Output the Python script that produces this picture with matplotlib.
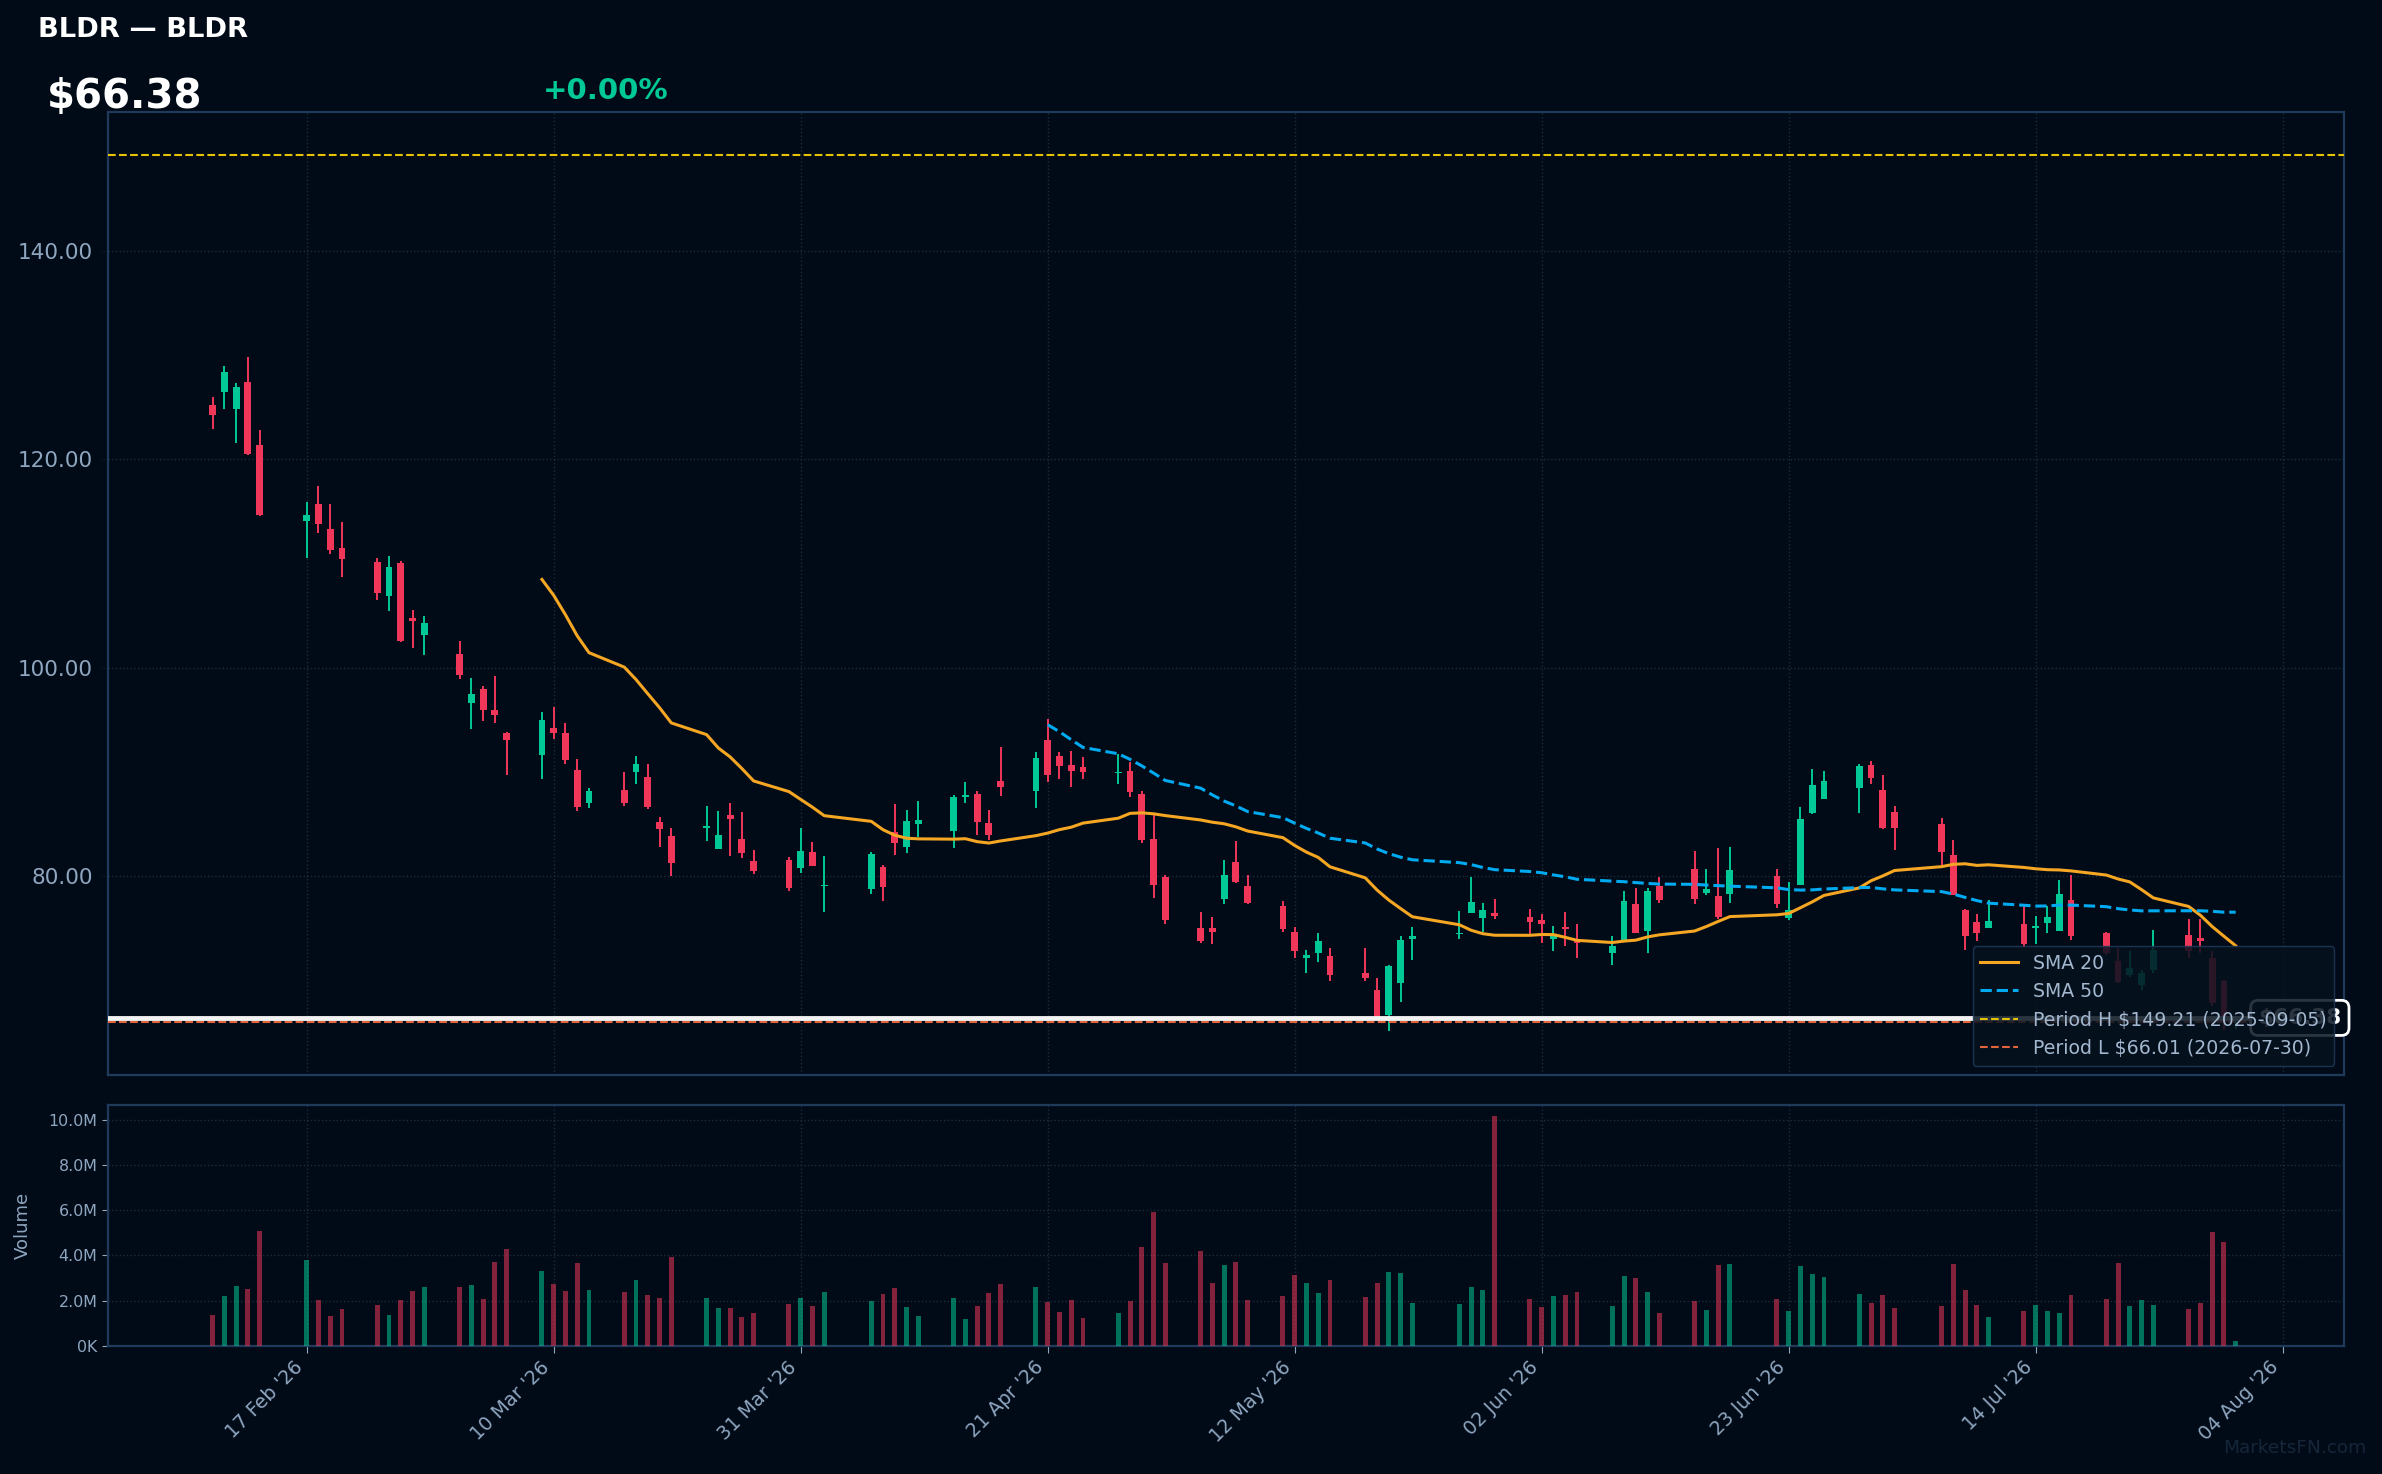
import matplotlib
matplotlib.use("Agg")
import matplotlib.pyplot as plt
import matplotlib.dates as mdates
import matplotlib.ticker as mticker
import numpy as np
import pandas as pd

# --- data ---
ticker = "BLDR"
name = "BLDR"
last_price = 66.38
change_pct = 0.00
period_high = 149.21
period_high_date = "2025-09-05"
period_low = 66.01
period_low_date = "2026-07-30"

holidays = ["2026-02-16", "2026-04-03", "2026-05-25", "2026-06-19", "2026-07-03"]
dates = pd.bdate_range("2026-02-09", "2026-07-31", freq="C", holidays=holidays)

opens = [125.22, 126.41, 124.84, 127.44, 121.38, 114.10, 115.71, 113.30, 111.47, 110.13,
         106.89, 110.03, 104.74, 103.14, 101.28, 96.60, 97.92, 95.90, 93.69, 91.57,
         94.22, 93.74, 90.19, 86.96, 88.27, 89.94, 89.52, 85.21, 83.87, 84.57,
         82.56, 85.88, 83.58, 81.47, 81.57, 80.73, 82.33, 79.01, 78.72, 80.89,
         84.25, 82.75, 84.95, 84.28, 87.54, 87.89, 85.11, 89.14, 88.12, 93.07,
         91.53, 90.67, 90.48, 89.84, 90.10, 87.89, 83.58, 79.94, 75.05, 75.05,
         77.76, 81.37, 79.07, 77.16, 74.66, 72.11, 72.59, 72.27, 70.64, 69.10,
         66.65, 69.71, 73.93, 74.41, 76.49, 76.01, 76.49, 76.10, 75.81, 73.99,
         75.14, 73.90, 72.56, 73.90, 77.35, 74.76, 79.07, 80.70, 78.40, 78.12,
         78.31, 80.03, 76.01, 79.17, 86.07, 87.41, 88.47, 90.67, 88.27, 86.17,
         85.02, 82.04, 76.77, 75.62, 75.05, 75.34, 75.05, 75.53, 74.76, 77.73,
         74.57, 71.79, 70.45, 69.58, 70.93, 74.38, 74.09, 72.17, 69.90, 66.10]
highs = [125.96, 128.94, 127.34, 129.84, 122.82, 115.90, 117.44, 115.71, 113.97, 110.51,
         110.71, 110.22, 105.51, 104.94, 102.53, 98.97, 98.21, 99.17, 93.78, 95.75,
         96.23, 94.70, 91.25, 88.47, 90.00, 91.53, 90.77, 85.69, 84.63, 86.74,
         86.26, 87.03, 86.17, 82.52, 81.85, 84.63, 83.29, 81.95, 82.33, 81.09,
         86.93, 86.36, 87.22, 87.80, 89.04, 88.18, 86.36, 92.40, 91.92, 95.08,
         91.92, 92.01, 91.44, 91.73, 90.96, 88.18, 85.88, 80.13, 76.58, 76.10,
         81.57, 83.39, 80.13, 77.64, 75.14, 72.88, 74.50, 73.13, 73.13, 70.16,
         71.50, 74.28, 75.14, 76.68, 79.94, 77.44, 77.83, 76.87, 76.39, 75.24,
         76.58, 75.34, 74.19, 78.59, 78.88, 78.88, 79.94, 82.43, 80.70, 82.72,
         82.81, 80.70, 79.46, 86.65, 90.29, 90.10, 90.77, 91.05, 89.71, 86.74,
         85.59, 83.48, 76.87, 76.39, 77.73, 77.16, 76.20, 77.16, 79.65, 80.13,
         74.66, 73.13, 72.75, 71.02, 74.86, 75.91, 75.91, 72.84, 70.00, 66.60]
lows = [122.85, 124.84, 121.57, 120.35, 114.58, 110.51, 112.95, 110.93, 108.69, 106.51,
        105.42, 102.47, 101.86, 101.19, 98.88, 94.07, 94.84, 94.65, 89.65, 89.33,
        93.10, 90.70, 86.20, 86.49, 86.68, 88.79, 86.39, 82.75, 79.97, 83.32,
        82.56, 81.88, 81.69, 80.16, 78.53, 80.26, 80.93, 76.52, 78.24, 77.57,
        81.98, 82.17, 83.74, 82.65, 86.96, 83.90, 83.42, 87.64, 86.49, 89.04,
        89.27, 88.56, 89.33, 88.85, 87.54, 83.13, 77.86, 75.37, 73.55, 73.45,
        77.28, 79.30, 77.28, 74.60, 72.11, 70.67, 71.73, 69.90, 69.90, 66.33,
        65.11, 67.89, 71.92, 73.99, 76.49, 74.60, 75.91, 74.47, 73.61, 72.75,
        73.32, 72.08, 71.50, 73.71, 74.57, 72.65, 77.44, 77.35, 78.21, 75.91,
        77.44, 76.96, 75.80, 79.10, 85.97, 87.41, 86.07, 88.85, 84.54, 82.52,
        81.09, 78.15, 72.94, 73.80, 75.05, 73.13, 73.51, 74.57, 74.76, 73.90,
        72.46, 69.68, 70.35, 69.01, 70.64, 72.17, 72.65, 67.48, 65.20, 65.30]
closes = [124.20, 128.37, 126.96, 120.51, 114.68, 114.65, 113.78, 111.31, 110.42, 107.18,
          109.65, 102.53, 104.49, 104.26, 99.26, 97.44, 95.90, 95.42, 93.01, 94.98,
          93.67, 91.09, 86.58, 88.18, 86.96, 90.77, 86.58, 84.47, 81.21, 84.76,
          83.96, 85.43, 82.17, 80.45, 78.82, 82.43, 80.93, 79.17, 82.14, 78.91,
          83.13, 85.30, 85.40, 87.60, 87.80, 85.14, 83.90, 88.50, 91.34, 89.71,
          90.58, 90.10, 90.00, 89.90, 88.08, 83.42, 79.11, 75.75, 73.74, 74.60,
          80.13, 79.39, 77.38, 74.89, 72.78, 72.40, 73.74, 70.48, 70.16, 66.33,
          71.31, 73.90, 74.19, 74.50, 77.54, 76.77, 76.20, 75.62, 75.34, 74.28,
          74.95, 73.61, 73.23, 77.64, 74.57, 78.59, 77.73, 77.83, 78.79, 76.10,
          80.61, 77.35, 76.77, 85.50, 88.75, 89.14, 90.58, 89.42, 84.63, 84.63,
          82.33, 78.15, 74.19, 74.57, 75.72, 73.51, 75.14, 76.10, 78.31, 74.28,
          72.65, 69.78, 71.12, 70.64, 72.94, 72.75, 73.71, 67.76, 66.01, 66.38]
# volume in millions of shares
volumes = [1.36, 2.20, 2.65, 2.51, 5.09, 3.80, 2.03, 1.32, 1.63, 1.80,
           1.36, 2.03, 2.43, 2.60, 2.60, 2.69, 2.07, 3.71, 4.29, 3.31,
           2.74, 2.43, 3.67, 2.47, 2.38, 2.91, 2.25, 2.12, 3.93, 2.12,
           1.67, 1.67, 1.27, 1.45, 1.85, 2.12, 1.76, 2.38, 1.98, 2.29,
           2.56, 1.72, 1.32, 2.12, 1.18, 1.76, 2.34, 2.74, 2.60, 1.94,
           1.49, 2.03, 1.23, 1.45, 1.98, 4.38, 5.93, 3.67, 4.20, 2.78,
           3.58, 3.71, 2.03, 2.20, 3.14, 2.78, 2.34, 2.91, 2.16, 2.78,
           3.27, 3.22, 1.89, 1.85, 2.60, 2.47, 10.15, 2.07, 1.72, 2.20,
           2.25, 2.38, 1.76, 3.09, 3.00, 2.38, 1.45, 1.98, 1.58, 3.58,
           3.62, 2.07, 1.54, 3.54, 3.18, 3.05, 2.29, 1.89, 2.25, 1.67,
           1.76, 3.62, 2.47, 1.80, 1.27, 1.54, 1.80, 1.54, 1.45, 2.25,
           2.07, 3.67, 1.76, 2.03, 1.80, 1.63, 1.89, 5.04, 4.60, 0.21]

# --- colours ---
BG = "#010b17"
GREEN = "#00c896"
RED = "#f0375a"
ORANGE = "#f5a623"
BLUE = "#00aaf0"
YELLOW = "#e6c200"
LOW_COL = "#e2653c"
SPINE = "#1f3a5a"
TXT = "#8fa6c0"
GRID = "#1c2b3d"


def main():
    o = np.array(opens)
    h = np.array(highs)
    l = np.array(lows)
    c = np.array(closes)
    v = np.array(volumes) * 1e6
    x = mdates.date2num(dates)
    cols = np.where(c >= o, GREEN, RED)

    fig = plt.figure(figsize=(23.82, 14.74), dpi=100, facecolor=BG)
    ax = fig.add_axes([0.0453, 0.2707, 0.9387, 0.6533])
    axv = fig.add_axes([0.0453, 0.087, 0.9387, 0.1635], sharex=ax)

    for a in (ax, axv):
        a.set_facecolor(BG)
        for s in a.spines.values():
            s.set_color(SPINE)
            s.set_linewidth(1.6)
        a.grid(True, color=GRID, ls=":", lw=1.0)
        a.set_axisbelow(True)
        a.tick_params(colors=TXT, labelcolor=TXT)

    # candles
    ax.vlines(x, l, h, colors=cols, lw=1.4, zorder=2)
    ax.bar(x, np.maximum(np.abs(c - o), 0.15), bottom=np.minimum(o, c),
           width=0.58, color=cols, zorder=3)

    # moving averages
    cs = pd.Series(c)
    ax.plot(x, cs.rolling(20).mean(), color=ORANGE, lw=2.2, zorder=4, label="SMA 20")
    ax.plot(x, cs.rolling(50).mean(), color=BLUE, lw=2.2, ls="--", zorder=4, label="SMA 50")

    ax.axhline(period_high, color=YELLOW, lw=1.5, ls="--", zorder=4,
               label=f"Period H ${period_high:.2f} ({period_high_date})")
    ax.axhline(period_low, color=LOW_COL, lw=1.5, ls="--", zorder=4,
               label=f"Period L ${period_low:.2f} ({period_low_date})")
    ax.axhline(last_price, color="#f2f2f2", lw=3.5, zorder=4)

    ax.text(0.9803, last_price, f"${last_price:.2f}", transform=ax.get_yaxis_transform(),
            ha="center", va="center", fontsize=15.5, weight="bold", color="white",
            clip_on=False, zorder=4.5,
            bbox=dict(boxstyle="round,pad=0.35", fc=BG, ec="white", lw=2))

    leg = ax.legend(loc="lower right", fontsize=13.6, facecolor="#06121f",
                    edgecolor=SPINE, framealpha=0.85, labelcolor="#a3b8cf")
    leg.set_zorder(6)

    ax.set_ylim(60.9, 153.3)
    ax.yaxis.set_major_locator(mticker.MultipleLocator(20))
    ax.yaxis.set_major_formatter(mticker.FormatStrFormatter("%.2f"))
    ax.tick_params(axis="y", labelsize=15.5, length=5, pad=6, color="#0b1420")
    ax.tick_params(axis="x", labelbottom=False, length=0)

    # volume
    axv.bar(x, v, width=0.42, color=cols, alpha=0.55, zorder=3)
    axv.set_ylim(0, 10.66e6)
    axv.yaxis.set_major_locator(mticker.MultipleLocator(2e6))
    axv.yaxis.set_major_formatter(mticker.FuncFormatter(
        lambda val, _: "0K" if val == 0 else f"{val / 1e6:.1f}M"))
    axv.tick_params(axis="y", labelsize=11.4, length=4)
    axv.set_ylabel("Volume", color=TXT, fontsize=13)
    axv.yaxis.set_label_coords(-0.034, 0.5)

    tick_dates = pd.date_range("2026-02-17", periods=9, freq="21D")
    axv.set_xticks(mdates.date2num(tick_dates))
    axv.xaxis.set_major_formatter(mdates.DateFormatter("%d %b '%y"))
    axv.tick_params(axis="x", labelsize=13.8, length=5)
    plt.setp(axv.get_xticklabels(), rotation=45, ha="right")
    ax.set_xlim(x[0] - 8.9, x[-1] + 9.2)

    # header
    fig.text(38 / 2382, 1 - 30 / 1474, f"{ticker} \u2014 {name}", fontsize=19.7,
             weight="bold", color="white", va="center", ha="left")
    fig.text(47 / 2382, 1 - 97 / 1474, f"${last_price:.2f}", fontsize=29,
             weight="bold", color="white", va="center", ha="left")
    fig.text(543 / 2382, 1 - 91 / 1474, f"+{change_pct:.2f}%", fontsize=21,
             weight="bold", color=GREEN, va="center", ha="left")
    fig.text(2366 / 2382, 1 - 1448 / 1474, "MarketsFN.com", fontsize=13.3,
             color="#16263a", va="center", ha="right")

    fig.savefig("out.png", dpi=100, facecolor=BG)


if __name__ == "__main__":
    main()
